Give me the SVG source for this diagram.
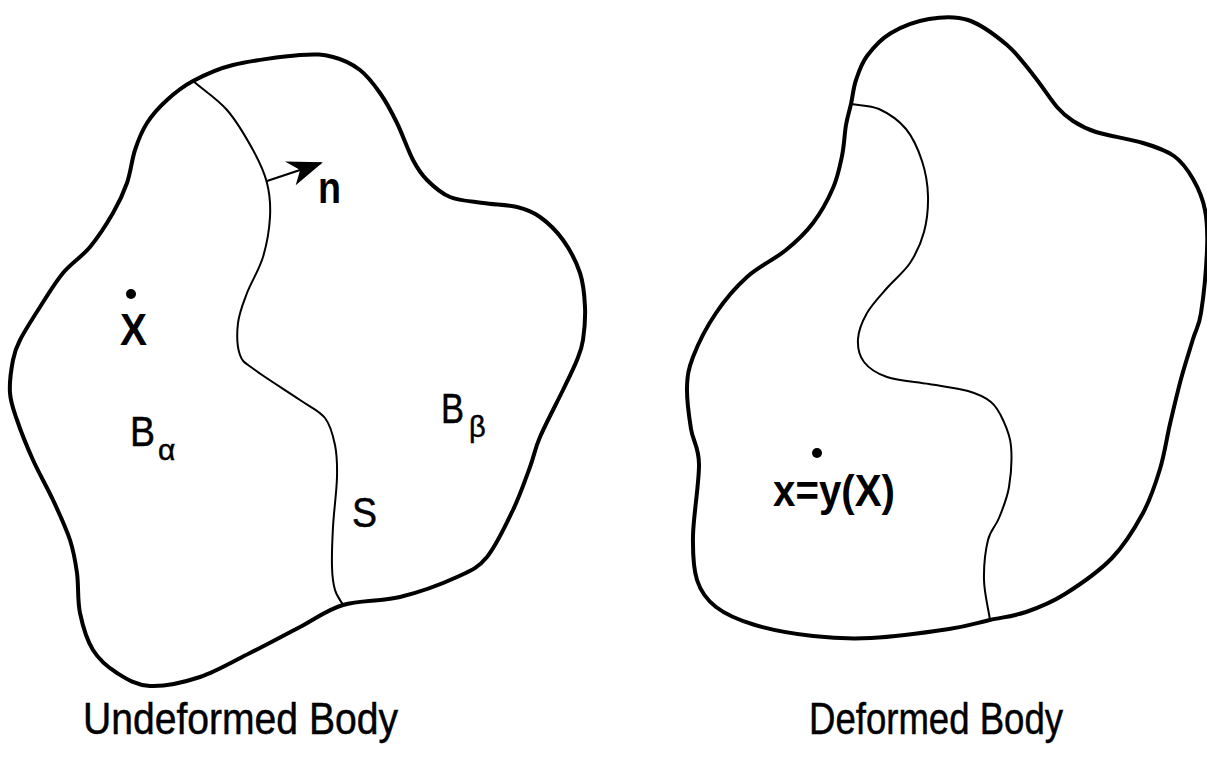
<svg xmlns="http://www.w3.org/2000/svg" width="1207" height="770" viewBox="0 0 1207 770">
<style>
.outline{fill:none;stroke:#000;stroke-width:4;stroke-linejoin:round;stroke-linecap:round}
.iface{fill:none;stroke:#000;stroke-width:2;stroke-linecap:round}
.lbl{font-family:"Liberation Sans",Arial,sans-serif;fill:#000}
.r{stroke:#000;stroke-width:0.5}
.b{font-weight:bold}
</style>
<defs>
<marker id="ah" viewBox="0 0 36 26" refX="34" refY="13" markerWidth="36" markerHeight="26" markerUnits="userSpaceOnUse" orient="auto">
<path d="M0,0 L36,13 L3,26 L12,13 Z" fill="#000"/>
</marker>
</defs>
<rect width="1207" height="770" fill="#fff"/>

<g id="undeformed-body">
<path class="outline" d="M193,81 C204,75.2 215.2,69.3 233,65 S283.3,56.3 300,55 S323,54.5 333,57 S352.2,64 360,70 S373.8,84.2 380,93 S391.5,111.8 397,123 S408,150.5 413,160 S420.8,173.8 427,180 S440.7,193.2 450,197 S471.8,201.3 483,203 S507.5,204.7 517,207 S532.3,211.5 540,217 S556.3,230.7 563,240 S576.3,261.8 580,273 S584.5,295.8 585,307 S584.3,331.2 583,340 S580.3,351.7 577,360 S569.2,377.2 563,390 S545.5,424.2 540,437 S534.5,454.8 530,467 S520.2,495 513,510 S496.3,545.8 487,557 S471.5,570.3 457,577 S419,592.3 400,597 S359.7,600 343,605 S315.5,619 300,627 S266.7,644.7 250,653 S216.7,671.5 200,677 S163.8,686.7 150,686 S126.5,679 117,673 S99.2,660 93,650 S82.7,625.8 80,613 S78.7,585.2 77,573 S74,552.2 70,540 S59.2,513.3 53,500 S39,473.3 33,460 S20.8,431.2 17,420 S10.7,403 10,393 S11.3,368.8 13,360 S15.5,348.8 20,340 S32.8,318.2 40,307 S54.7,283 63,273 S81.7,257 90,247 S106.8,223.7 113,213 S123.3,193.5 127,183 S131.7,160 135,150 S141.7,131.3 147,123 S159.3,107 167,100 S182,86.8 193,81 Z"/>
<path class="iface" d="M193,81 C204.3,90.7 217,98.5 227,110 S246.3,137.8 253,150 S264.2,171.8 267,183 S270.7,204.7 270,217 S266.8,244.3 263,257 S251.2,282 247,293 S239.2,312.7 238,323 S237.2,347.2 240,355 S245,362.5 255,370 S288.3,392 300,400 S319.2,410.5 325,418 S333,435.2 335,445 S337.3,463.3 337,477 S333.8,512 333,527 S331.7,556.5 332,567 S333.2,583.7 335,590 S340.3,600 343,605"/>
</g>

<g id="deformed-body">
<path class="outline" d="M851,104 C852.7,96.5 853.3,88 856,80 S861.2,63.8 867,56 S880.7,39.2 891,33 S916.2,21.2 929,19 S955,15.7 968,20 S996,35.7 1007,45 S1025.7,65.7 1034,76 S1050.5,99.5 1057,107 S1066.5,116.8 1073,121 S1084.3,128.3 1096,132 S1130,139 1143,143 S1165.7,150 1174,156 S1187.8,170 1193,179 S1202.7,198.2 1205,210 S1207.7,232.8 1207,250 S1203.3,298.2 1201,313 S1196.3,328 1193,339 S1184.8,364.8 1181,379 S1173.5,409 1170,424 S1164.5,454.2 1160,469 S1151,498.2 1143,513 S1125,544.5 1112,558 S1079.3,585 1065,594 S1038.5,607.7 1026,612 S1002.8,617.2 990,620 S968.8,626 949,629 S893.7,636.8 871,638 S832.3,638.2 813,636 S771.2,629.8 755,625 S725.7,614.5 716,607 S700.8,591.8 697,580 S692.7,555.3 693,536 S699.3,481.8 699,464 S693,441.7 691,429 S686.7,400 687,388 S688.2,369.5 693,357 S707,326.3 716,313 S735.3,287.5 747,277 S775,259 786,250 S805.2,233.3 813,223 S828.2,199.2 833,188 S839.8,166.5 842,156 S844.5,133.7 846,125 S849.3,111.5 851,104 Z"/>
<path class="iface" d="M851,104 C860.3,105.7 869.8,104.8 879,109 S898.8,120.3 906,129 S918.3,149.8 922,161 S927.7,184.2 928,196 S927,220.8 924,232 S916.2,253.7 910,263 S894.2,279.7 887,288 S871.8,304.5 867,313 S858.5,330.8 858,339 S859.2,355.7 864,362 S876.2,373.3 887,377 S915.5,381.7 929,384 S957.7,388 968,391 S985.2,397.2 991,402 S999.7,412.7 1003,420 S1010,434.8 1011,446 S1011,475 1009,487 S1002.5,509.2 999,518 S990.5,529.7 988,540 S983.7,566.7 984,580 S988,606.7 990,620"/>
</g>

<g id="connectors">
<line x1="267" y1="181" x2="321" y2="163" stroke="#000" stroke-width="2.2" marker-end="url(#ah)"/>
</g>

<g id="label-n"><text class="lbl b" x="318" y="203" font-size="44" textLength="23" lengthAdjust="spacingAndGlyphs">n</text></g>
<g id="point-X">
<circle cx="131" cy="294" r="5"/>
<text class="lbl b" x="120" y="345" font-size="44" textLength="27" lengthAdjust="spacingAndGlyphs">X</text>
</g>
<g id="label-Balpha">
<text class="lbl r" x="130" y="446" font-size="42" textLength="25" lengthAdjust="spacingAndGlyphs">B</text>
<text class="lbl r" x="158" y="460" font-size="30">α</text>
</g>
<g id="label-Bbeta">
<text class="lbl r" x="441" y="423" font-size="42" textLength="23" lengthAdjust="spacingAndGlyphs">B</text>
<text class="lbl r" x="469" y="437" font-size="29">β</text>
</g>
<g id="label-S"><text class="lbl r" x="352" y="527" font-size="42" textLength="25" lengthAdjust="spacingAndGlyphs">S</text></g>
<g id="point-x">
<circle cx="817" cy="453" r="5"/>
<text class="lbl b" x="773" y="506" font-size="44" textLength="122" lengthAdjust="spacingAndGlyphs">x=y(X)</text>
</g>
<g id="caption-undeformed"><text class="lbl r" x="83" y="734" font-size="44" textLength="315" lengthAdjust="spacingAndGlyphs">Undeformed Body</text></g>
<g id="caption-deformed"><text class="lbl r" x="809" y="734" font-size="44" textLength="254" lengthAdjust="spacingAndGlyphs">Deformed Body</text></g>
</svg>
